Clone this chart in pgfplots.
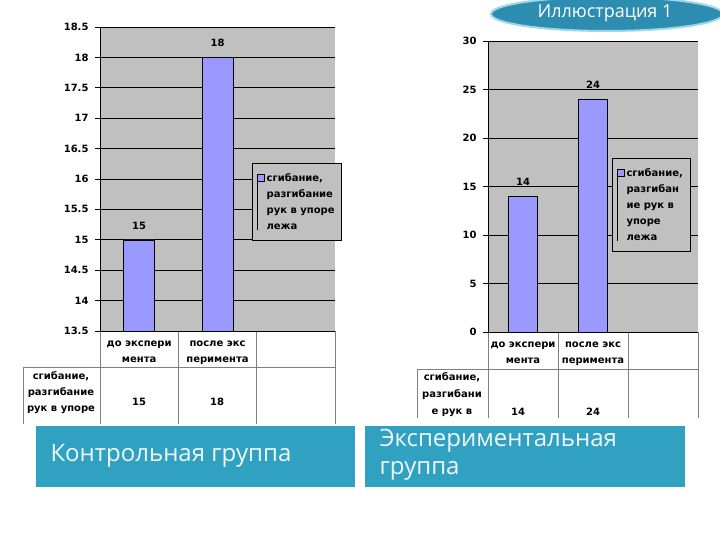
\documentclass[border=0pt]{standalone}
\usepackage{fontspec}
\setmainfont{DejaVu Sans}
\newfontfamily\titlefont{Open Sans}
\usepackage{pgfplots}
\pgfplotsset{compat=1.18}
\definecolor{barfill}{HTML}{9999FF}
\definecolor{plotbg}{HTML}{C0C0C0}
\definecolor{boxblue}{HTML}{31A1C1}
\definecolor{ellfill}{HTML}{2C8DB0}
\definecolor{ellborder}{HTML}{9ED6E6}
\definecolor{tablegray}{HTML}{7F7F7F}
\newcommand{\cf}{\bfseries\fontsize{10}{13}\selectfont}
\pgfplotsset{
  excelbar/.style={
    scale only axis, anchor=south west,
    xmin=-0.5, xmax=2.5, xtick={0,1},
    axis background/.style={fill=plotbg},
    axis x line*=bottom, axis y line*=left, axis line style={-, black, line width=0.6pt},
    ymajorgrids, grid style={black, line width=0.6pt},
    major x tick style={draw=none},
    ytick style={black, line width=0.6pt}, tick align=outside, major tick length=5pt,
    yticklabel style={font=\cf, xshift=-3pt},
    xticklabel style={align=center, font=\bfseries\fontsize{10}{16.5}\selectfont, yshift=-1pt},
    /pgf/number format/assume math mode=true,
    ybar, bar shift=0pt,
    nodes near coords,
    every node near coord/.append style={font=\cf, black, yshift=7pt},
    legend style={draw=black, fill=plotbg, font=\bfseries\fontsize{10}{16}\selectfont,
      cells={align=left}, anchor=north west, inner xsep=5pt, inner ysep=8pt},
  }
}
\begin{document}
\begin{tikzpicture}[x=1pt,y=1pt]
\fill[white] (0pt,0pt) rectangle (720pt,540pt);
\clip (0pt,0pt) rectangle (720pt,540pt);
% tables
\begin{scope}[tablegray, line width=0.6pt]
\draw (100,209) -- (100,116);
\draw (178,209) -- (178,116);
\draw (256,209) -- (256,116);
\draw (335,209) -- (335,116);
\draw (23,173) -- (335,173);
\draw (23,173) -- (23,116);
\draw (488,208) -- (488,122);
\draw (558,208) -- (558,122);
\draw (628,208) -- (628,122);
\draw (698,208) -- (698,122);
\draw (417,171) -- (698,171);
\draw (417,171) -- (417,122);
\end{scope}
\node[align=center, font=\bfseries\fontsize{10}{16}\selectfont, inner sep=0pt] at (61,147) {сгибание,\\разгибание\\рук в упоре};
\node[font=\cf] at (139,138) {15};
\node[font=\cf] at (217,138) {18};
\node[align=center, font=\bfseries\fontsize{10}{17}\selectfont, inner sep=0pt] at (452,145) {сгибание,\\разгибани\\е рук в};
\node[font=\cf] at (518,128) {14};
\node[font=\cf] at (593,128) {24};

\begin{axis}[excelbar, at={(100pt,209pt)}, width=235pt, height=304pt,
  ymin=13.5, ymax=18.5, ytick distance=0.5, bar width=31pt,
  xticklabels={{до экспери\\мента},{после экс\\перимента}},
  legend style={at={(rel axis cs:0.647,0.553)}},
  legend image code/.code={\path (0pt,-28pt) -- (0pt,28pt);
    \draw[fill=barfill,draw=black] (0pt,20.5pt) rectangle (7pt,27.5pt);}]
\addplot[fill=barfill, draw=black] coordinates {(0,15) (1,18)};
\addlegendentry{сгибание,\\разгибание\\рук в упоре\\лежа}
\end{axis}

\begin{axis}[excelbar, at={(488pt,208pt)}, width=210pt, height=291pt,
  ymin=0, ymax=30, ytick distance=5, bar width=29pt,
  xticklabels={{до экспери\\мента},{после экс\\перимента}},
  legend style={at={(rel axis cs:0.59,0.598)}},
  legend image code/.code={\path (0pt,-36pt) -- (0pt,36pt);
    \draw[fill=barfill,draw=black] (0pt,28.5pt) rectangle (7pt,35.5pt);}]
\addplot[fill=barfill, draw=black] coordinates {(0,14) (1,24)};
\addlegendentry{сгибание,\\разгибан\\ие рук в\\упоре\\лежа}
\end{axis}

% blue boxes
\fill[boxblue] (36,53) rectangle (355,114);
\fill[boxblue] (365,53) rectangle (685,114);
\node[anchor=west, text=white!92!boxblue, font=\titlefont\fontsize{24}{28}\selectfont] at (47,84) {Контрольная группа};
\node[anchor=west, align=left, text=white!92!boxblue, font=\titlefont\fontsize{24}{28}\selectfont] at (376,85) {Экспериментальная\\группа};
% title ellipse
\filldraw[fill=ellfill, draw=ellborder, line width=2pt] (607,526) ellipse [x radius=116, y radius=17];
\node[text=white, font=\titlefont\fontsize{18}{20}\selectfont] at (605,527) {Иллюстрация 1};
\end{tikzpicture}
\end{document}
